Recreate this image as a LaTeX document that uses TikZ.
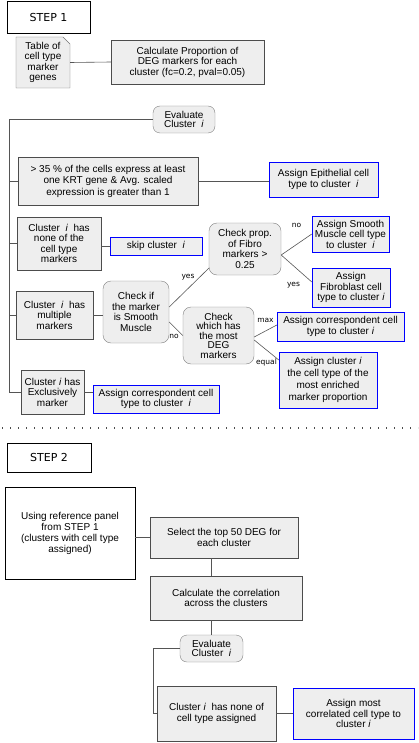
\documentclass[tikz,border=0pt]{standalone}
\usepackage{fontspec}
\setmainfont{Liberation Sans}
\newfontfamily\stepfont{DejaVu Sans}
\usetikzlibrary{calc}

\definecolor{boxfill}{HTML}{EEEEEE}
\definecolor{edge}{HTML}{555555}

\begin{document}
\begin{tikzpicture}[
  x=1pt, y=-1pt,
  font=\fontsize{10}{10.5}\selectfont,
  sz/.style 2 args={minimum width=#1pt, minimum height=#2pt},
  box/.style={draw=black!70, fill=boxfill, align=center, inner sep=1pt},
  res/.style={draw=blue, fill=boxfill, align=center, inner sep=1pt},
  dec/.style={draw=gray, fill=boxfill, rounded corners=7pt, align=center, inner sep=1pt},
  plain/.style={draw=black, align=center, inner sep=1pt},
  stp/.style={plain, font=\stepfont\fontsize{11}{11}\selectfont},
  ln/.style={draw=edge, semithick},
  lbl/.style={font=\stepfont\fontsize{7.5}{8}\selectfont, inner sep=0pt},
]
  \useasboundingbox (0,0) rectangle (418,743);

  % step 1
  \node[stp, sz={83}{32}] (s1) at (48.5,17) {STEP 1};
  \filldraw[draw=black!55, fill=boxfill] (16,37) -- (63,37) -- (70,44) -- (70,88) -- (16,88) -- cycle;
  \node[align=center, inner sep=0pt, sz={54}{51}] (tbl) at (43,62.5) {Table of\\cell type\\marker\\genes};
  \node[box, sz={153}{44}] (calc) at (187.5,62) {Calculate Proportion of\\DEG markers for each\\cluster (fc=0.2, pval=0.05)};

  \node[dec, sz={62}{27}, font=\fontsize{10}{9.5}\selectfont] (ev1) at (184,119.5) {Evaluate\\Cluster \ \textit{i}};
  \node[box, sz={180}{48}, font=\fontsize{10}{11.5}\selectfont] (kwt) at (108,181) {> 35 \% of the cells express at least\\one KRT gene \& Avg. scaled\\expression is greater than 1};
  \node[res, sz={109}{35}] (epi) at (323.5,179.5) {Assign Epithelial cell\\type to cluster \ \textit{i}};
  \node[box, sz={84}{53}] (none) at (59,243.5) {Cluster \ \textit{i} \ has\\none of the\\cell type\\markers};
  \node[res, sz={92}{18}] (skip) at (156,246) {skip cluster \ \textit{i}};
  \node[dec, sz={72}{52}, rounded corners=8pt] (fib) at (245,249) {Check prop.\\of Fibro\\markers >\\0.25};
  \node[res, sz={77}{36}] (smc) at (350.5,234) {Assign Smooth\\Muscle cell type\\to cluster \ \textit{i}};
  \node[res, sz={78}{39}] (fbl) at (351,287.5) {Assign\\Fibroblast cell\\type to cluster \textit{i}};
  \node[box, sz={77}{48}] (mult) at (54.5,315) {Cluster \ \textit{i} \ has\\multiple\\markers};
  \node[dec, sz={66}{62}, rounded corners=8pt] (ism) at (136,312) {Check if\\the marker\\is Smooth\\Muscle};
  \node[dec, sz={71}{57}, rounded corners=8pt, font=\fontsize{10}{9.5}\selectfont] (most) at (218.5,335.5) {Check\\which has\\the most\\DEG\\markers};
  \node[res, sz={127}{29}] (cor1) at (340.5,326.5) {Assign correspondent cell\\type to cluster \textit{i}};
  \node[res, sz={98}{56}, font=\fontsize{10}{12}\selectfont] (enr) at (328,380) {Assign cluster \textit{i}\\the cell type of the\\most enriched\\marker proportion};
  \node[box, sz={63}{44}] (excl) at (52.5,392) {Cluster \textit{i} has\\Exclusively\\marker};
  \node[res, sz={126}{28}] (cor2) at (156,399) {Assign correspondent cell\\type to cluster \ \textit{i}};

  \draw[ln] (tbl.east) -- (calc.west);
  \coordinate (tr) at (9,392);
  \draw[ln] (ev1.west) -| (tr) -- (excl.west);
  \draw[ln] (tr |- kwt.west) -- (kwt.west);
  \draw[ln] (tr |- none.west) -- (none.west);
  \draw[ln] (tr |- mult.west) -- (mult.west);
  \draw[ln] (kwt.east) -- (kwt.east -| epi.west);
  \draw[ln] (none.east |- skip.west) -- (skip.west);
  \draw[ln] (mult.east) -- (mult.east -| ism.west);
  \draw[ln] ([yshift=5pt]ism.east) -- ([yshift=7pt]fib.south west)
    node[lbl, midway, xshift=-1pt, yshift=10pt] {yes};
  \draw[ln] ([yshift=-10pt]ism.east) -- (most.west)
    node[lbl, midway, xshift=-2pt, yshift=-8pt] {no};
  \draw[ln] ([yshift=-6pt]fib.east) -- (smc.west)
    node[lbl, midway, yshift=19pt] {no};
  \draw[ln] ([yshift=-6pt]fib.east) -- ([yshift=5.5pt]fbl.west)
    node[lbl, midway, xshift=-3pt, yshift=-16.5pt] {yes};
  \draw[ln] ([yshift=-1.5pt]most.east) -- ([yshift=1.5pt]cor1.west)
    node[lbl, midway, yshift=11pt] {max};
  \draw[ln] ([yshift=-4.5pt]most.east) -- ([yshift=20pt]enr.west)
    node[lbl, midway, yshift=-12pt] {equal};
  \draw[ln] (excl.east) -- (excl.east -| cor2.west);

  \draw[black!70, line width=1.2pt, dash pattern=on 1.2pt off 6.8pt] (2,428) -- (418,428);

  % step 2
  \node[stp, sz={84}{29}] (s2) at (49,457.5) {STEP 2};
  \node[plain, sz={130}{92}, font=\fontsize{10}{11}\selectfont] (ref) at (70,533) {Using reference panel\\from STEP 1\\(clusters with cell type\\assigned)};
  \node[box, sz={148}{41}] (top) at (224,537.5) {Select the top 50 DEG for\\each cluster};
  \node[box, sz={152}{44}] (crl) at (226,598) {Calculate the correlation\\across the clusters};
  \node[dec, sz={63}{27}, font=\fontsize{10}{9.5}\selectfont] (ev2) at (211.5,648.5) {Evaluate\\Cluster \ \textit{i}};
  \node[box, sz={119}{55}] (non2) at (216.5,713.5) {Cluster \textit{i} \ has none of\\cell type assigned};
  \node[res, sz={121}{51}] (mcr) at (353.5,713.5) {Assign most\\correlated cell type to\\cluster \textit{i}};

  \draw[ln] (ref.east |- top.west) -- (top.west);
  \draw[ln] (ev2.north |- top.south) -- (ev2.north |- crl.north);
  \draw[ln] (ev2.north |- crl.south) -- (ev2.north);
  \draw[ln] (ev2.west) -| ([xshift=-4pt]non2.west) -- (non2.west);
  \draw[ln] (non2.east) -- (non2.east -| mcr.west);
\end{tikzpicture}
\end{document}
